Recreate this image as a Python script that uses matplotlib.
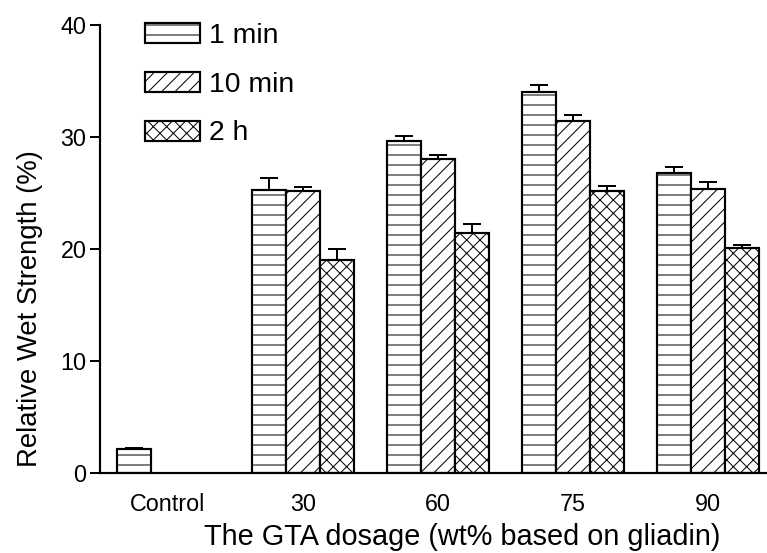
import numpy as np
import matplotlib.pyplot as plt

plt.rcParams['font.family'] = ['Liberation Sans', 'DejaVu Sans']
plt.rcParams['hatch.linewidth'] = 0.6
plt.rcParams['hatch.color'] = 'black'

categories = ['Control', '30', '60', '75', '90']
series = ['1 min', '10 min', '2 h']
hatches = ['--', '///', 'xxx']

# mean values and (upper) error, None = not measured
vals_1min = [2.1, 25.3, 29.6, 34.0, 26.8]
err_1min = [0.1, 1.0, 0.5, 0.6, 0.5]
vals_10min = [None, 25.2, 28.0, 31.4, 25.4]
err_10min = [None, 0.3, 0.4, 0.6, 0.6]
vals_2h = [None, 19.0, 21.4, 25.2, 20.1]
err_2h = [None, 1.0, 0.8, 0.4, 0.3]

all_vals = [vals_1min, vals_10min, vals_2h]
all_errs = [err_1min, err_10min, err_2h]

dpi = 120
fig = plt.figure(figsize=(767 / dpi, 553 / dpi), dpi=dpi)
ax = fig.add_axes([100 / 767, 80 / 553, 667 / 767, 448 / 553])

width = 0.25
x = np.arange(len(categories))
for k, (vals, errs) in enumerate(zip(all_vals, all_errs)):
    xs = [x[i] + (k - 1) * width for i in range(len(vals)) if vals[i] is not None]
    hs = [v for v in vals if v is not None]
    es = [e for e in errs if e is not None]
    ax.bar(xs, hs, width, color='white', edgecolor='black', linewidth=1.3,
           hatch=hatches[k], label=series[k], zorder=2)
    ax.errorbar(xs, hs, yerr=[np.zeros(len(es)), es], fmt='none', ecolor='black',
                elinewidth=1.2, capsize=5.5, capthick=1.2, zorder=3)

ax.set_xlim(-0.504, 4.437)
ax.set_ylim(0, 40)
ax.set_yticks([0, 10, 20, 30, 40])
ax.set_xticks(x)
ax.set_xticklabels(categories)
ax.tick_params(axis='x', length=0, pad=12, labelsize=14)
ax.tick_params(axis='y', length=6, width=1.2, pad=2, labelsize=14)
for s in ['top', 'right']:
    ax.spines[s].set_visible(False)
for s in ['left', 'bottom']:
    ax.spines[s].set_linewidth(1.3)

ax.set_xlabel('The GTA dosage (wt% based on gliadin)', fontsize=17.3)
ax.xaxis.set_label_coords(0.543, -0.111)
ax.set_ylabel('Relative Wet Strength (%)', fontsize=16.5)
ax.yaxis.set_label_coords(-0.0855, 0.367)

leg = ax.legend(loc='upper left', bbox_to_anchor=(131 / 767, 1 - 9 / 553),
                bbox_transform=fig.transFigure, frameon=False, fontsize=17,
                handlelength=1.95, handleheight=0.7, labelspacing=0.8,
                handletextpad=0.3, borderpad=0)

fig.savefig('out.png', dpi=dpi)
